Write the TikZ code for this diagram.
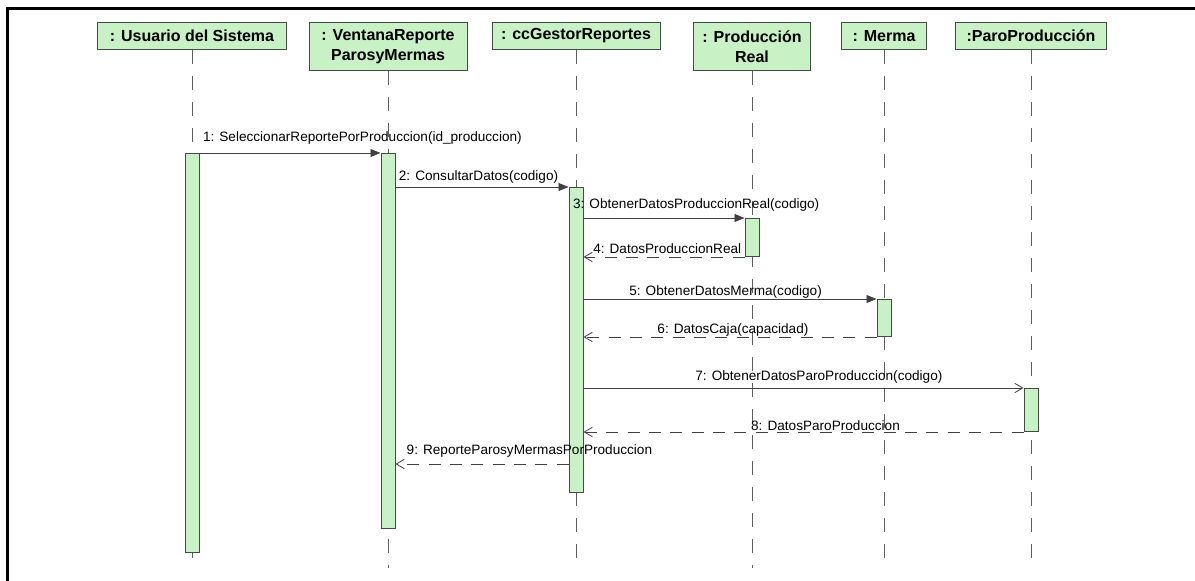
\documentclass[tikz,border=0pt]{standalone}
\usepackage{fontspec}
\setmainfont{Liberation Sans}
\usetikzlibrary{positioning, arrows.meta}

\definecolor{verdeobj}{RGB}{200,242,198}
\definecolor{bordeobj}{RGB}{66,76,66}
\definecolor{linea}{RGB}{64,64,64}

\begin{document}
\begin{tikzpicture}[
    x=0.75pt, y=-0.75pt,
    objeto/.style={rectangle, draw=bordeobj, fill=verdeobj, line width=0.75pt,
                   anchor=north, minimum height=20.25pt, inner sep=2pt,
                   align=center, font=\fontsize{12}{15}\selectfont\bfseries},
    vida/.style={draw=linea!85, line width=0.6pt, dash pattern=on 10.5pt off 9pt},
    barra/.style={rectangle, draw=bordeobj, fill=verdeobj, line width=0.75pt,
                  anchor=north, minimum width=10.5pt, inner sep=0pt,
                  minimum height=#1*0.75pt},
    llamada/.style={draw=linea, line width=0.6pt,
                    -{Triangle[length=7.5pt, width=6pt]}},
    llamadav/.style={draw=linea, line width=0.6pt,
                     -{Straight Barb[length=6pt, width=7pt]}},
    retorno/.style={draw=linea, line width=0.6pt, dash pattern=on 9pt off 7pt,
                    -{Straight Barb[length=6pt, width=7pt]}},
    etiq/.style={font=\fontsize{10.2}{12}\selectfont, inner sep=0pt}
]
\useasboundingbox (0,0) rectangle (1195,581);

% Marco
\draw[line width=2.25pt] (1195,8.5) -- (7,8.5) -- (7,581);

% Objetos
\node[objeto, minimum width=141.75pt] (usuario) at (192,22) {: Usuario del Sistema};
\node[objeto, minimum width=118.5pt, minimum height=36pt] (ventana) at (388,22) {: VentanaReporte\\ParosyMermas};
\node[objeto, minimum width=126pt] (gestor) at (576,22) {: ccGestorReportes};
\node[objeto, minimum width=87.75pt, minimum height=36pt] (prodreal) at (752,22) {: Producción\\Real};
\node[objeto, minimum width=63.75pt] (merma) at (884,22) {: Merma};
\node[objeto, minimum width=113.25pt] (paro) at (1031,22) {:ParoProducción};

% Lineas de vida
\coordinate (fin) at (0,568);
\foreach \o in {usuario, ventana, gestor, prodreal, merma, paro}
    \draw[vida] (\o.south) -- (\o.south |- fin);

% Activaciones
\node[barra=399] (act1) at (usuario |- 0,153) {};
\node[barra=375] (act2) at (ventana |- 0,153) {};
\node[barra=305] (act3) at (gestor |- 0,187) {};
\node[barra=38] (act4) at (prodreal |- 0,218) {};
\node[barra=37] (act5) at (merma |- 0,299) {};
\node[barra=43] (act6) at (paro |- 0,388) {};

% Mensajes
\draw[llamada] (act1.north east) -- node[etiq, pos=.90, above=6pt]
    {1: SeleccionarReportePorProduccion(id\_produccion)} (act2.north west);
\draw[llamada] (act2.east |- act3.north) -- node[etiq, pos=.48, above=2.5pt]
    {2: ConsultarDatos(codigo)} (act3.north west);
\draw[llamada] (act3.east |- act4.north) -- node[etiq, pos=.70, above=5pt]
    {3: ObtenerDatosProduccionReal(codigo)} (act4.north west);
\draw[retorno] (act4.south west) -- node[etiq, pos=.48, above=2.5pt]
    {4: DatosProduccionReal} (act3.east |- act4.south);
\draw[llamada] (act3.east |- act5.north) -- node[etiq, pos=.485, above=.5pt]
    {5: ObtenerDatosMerma(codigo)} (act5.north west);
\draw[retorno] (act5.south west) -- node[etiq, pos=.49, above=.5pt]
    {6: DatosCaja(capacidad)} (act3.east |- act5.south);
\draw[llamadav] (act3.east |- act6.north) -- node[etiq, pos=.535, above=3.5pt]
    {7: ObtenerDatosParoProduccion(codigo)} (act6.north west);
\draw[retorno] (act6.south west) -- node[etiq, pos=.45, above=.5pt]
    {8: DatosParoProduccion} (act3.east |- act6.south);

% Respuesta final
\coordinate (r9) at (0,464);
\draw[retorno] (act3.west |- r9) -- node[etiq, pos=.226, above=5pt]
    {9: ReporteParosyMermasPorProduccion} (act2.east |- r9);

\end{tikzpicture}
\end{document}
